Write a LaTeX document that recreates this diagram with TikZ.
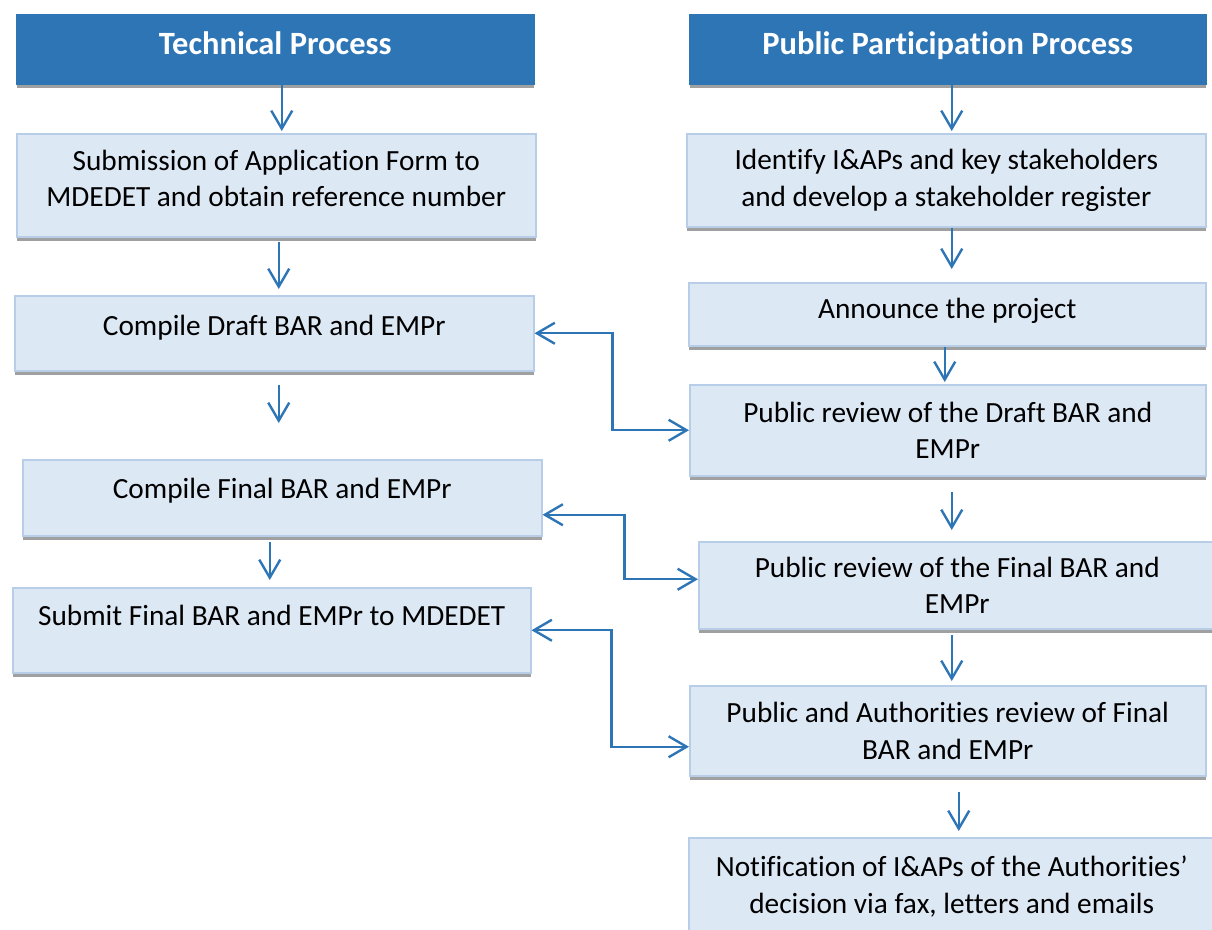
\documentclass[tikz,border=0pt]{standalone}
\usepackage{fontspec}
\setmainfont{Carlito}[Ligatures=CommonOff]
\usetikzlibrary{arrows.meta, shadows}
\definecolor{headblue}{RGB}{46,117,182}
\definecolor{boxfill}{RGB}{221,232,245}
\definecolor{boxline}{RGB}{183,205,232}
\definecolor{shadowgray}{RGB}{160,160,160}
\tikzset{stepbox/.style={draw=boxline, line width=1.5pt, fill=boxfill, anchor=north west, inner sep=0pt, align=center,
    drop shadow={shadow xshift=0pt, shadow yshift=-4pt, fill=shadowgray, opacity=1}, font=\fontsize{29.3}{36.5}\selectfont}}
\tikzset{headbox/.style={stepbox, draw=headblue, fill=headblue, text=white, font=\fontsize{32.5}{38}\selectfont\bfseries}}
\tikzset{flow/.style={draw=headblue, line width=2.4pt, -{Straight Barb[length=18pt,width=21pt]}}}
\tikzset{link/.style={flow, {Straight Barb[length=18pt,width=21pt]}-{Straight Barb[length=18pt,width=21pt]}}}

\begin{document}
\begin{tikzpicture}[x=1pt, y=-1pt]
    \clip (0,0) rectangle (1212,929);
    \node[headbox, minimum width=517pt, minimum height=69pt, text height=23.5pt, text depth=13.9pt] (th) at (16,14) {Technical Process};
    \node[headbox, minimum width=516pt, minimum height=69pt, text height=23.5pt, text depth=13.9pt] (ph) at (689,14) {Public Participation Process};

    \node[stepbox, minimum width=519pt, minimum height=103pt, text depth=14pt] (b1) at (16,133) {Submission of Application Form to\\MDEDET and obtain reference number};
    \node[stepbox, minimum width=519pt, minimum height=75pt, text height=21pt, text depth=16.6pt] (b2) at (14,295) {Compile Draft BAR and EMPr};
    \node[stepbox, minimum width=519pt, minimum height=76pt, text height=21pt, text depth=19.6pt] (b3) at (22,459) {Compile Final BAR and EMPr};
    \node[stepbox, minimum width=518pt, minimum height=85pt, text height=21pt, text depth=29.6pt] (b4) at (12,587) {Submit Final BAR and EMPr to MDEDET};

    \node[stepbox, minimum width=519pt, minimum height=93pt] (r1) at (686,133) {Identify I\&APs and key stakeholders\\and develop a stakeholder register};
    \node[stepbox, minimum width=517pt, minimum height=63pt, text height=21pt, text depth=12.2pt] (r2) at (688,282) {Announce the project};
    \node[stepbox, minimum width=516pt, minimum height=91pt] (r3) at (689,384) {Public review of the Draft BAR and\\EMPr};
    \node[stepbox, minimum width=517pt, minimum height=87pt] (r4) at (698,541) {Public review of the Final BAR and\\EMPr};
    \node[stepbox, minimum width=516pt, minimum height=90pt] (r5) at (689,685) {Public and Authorities review of Final\\BAR and EMPr};
    \node[stepbox, minimum width=526pt, minimum height=110pt, text depth=16pt] (r6) at (688,837) {Notification of I\&APs of the Authorities'\\decision via fax, letters and emails};

    \foreach \a/\b/\dx/\s/\e in {th/b1/6.5/0/2, b1/b2/2.5/4/6, b2/b3/4.5/13/36, b3/b4/-12.5/5/7,
        ph/r1/4/0/2, r1/r2/5.5/0/13, r2/r3/-2.5/0/2, r3/r4/4/15/11, r4/r5/-5.5/5/4, r5/r6/11/15/6} {
        \draw[flow, shorten <=\s pt, shorten >=\e pt] ([xshift=\dx pt]\a.south) -- ([xshift=\dx pt]\a.south |- \b.north);
    }

    \draw[link] (b2.east) -- ++(78,0) |- (r3.west);
    \draw[link] ([yshift=-17pt]b3.east) -- ++(82,0) |- ([yshift=6pt]r4.west);
    \draw[link] (b4.east) -- ++(80,0) |- ([yshift=-16pt]r5.west);
\end{tikzpicture}
\end{document}
